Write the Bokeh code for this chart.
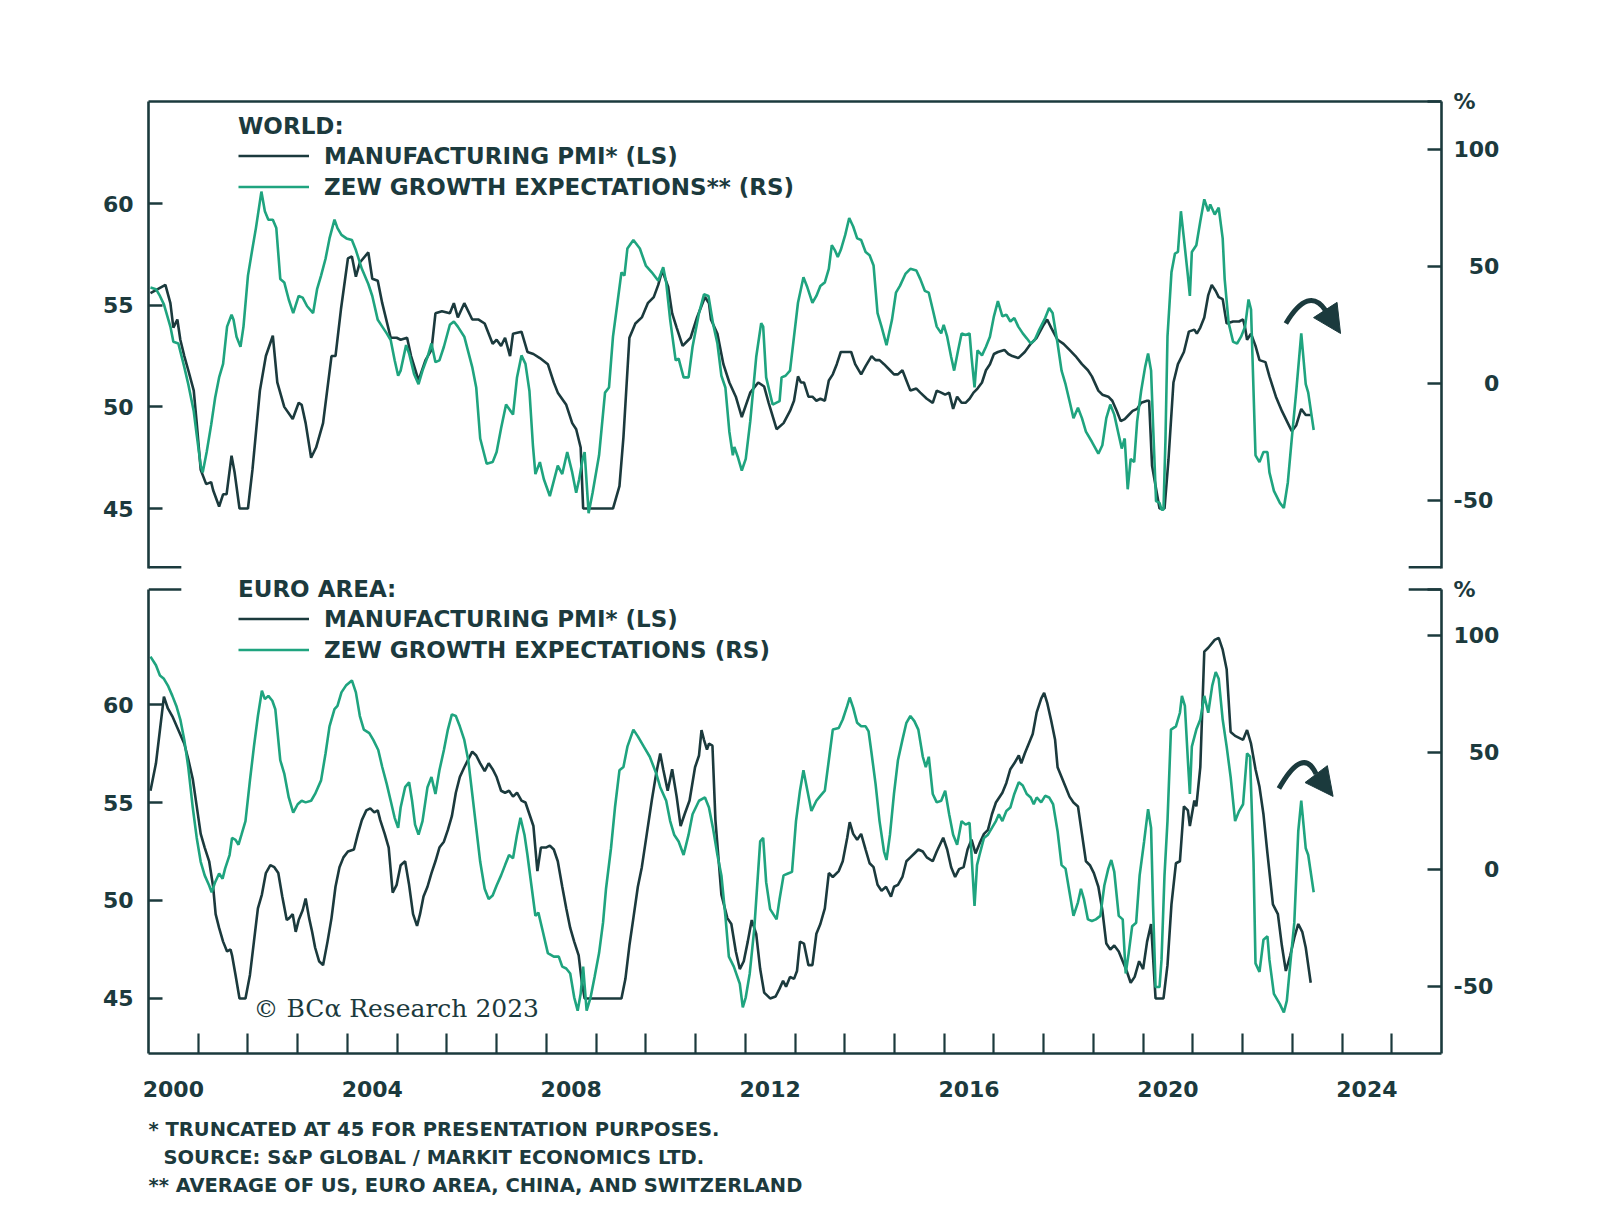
from bokeh.plotting import figure
from bokeh.models import (Range1d, LinearAxis, FixedTicker, Legend, LegendItem, Label, Title,
                          Arrow, NormalHead, CustomJSTickFormatter)
from bokeh.layouts import column
from bokeh.embed import file_html
from bokeh.resources import INLINE

DARK = "#1b3a3d"
GREEN = "#1fa47f"
TEXT = "#1c3a3d"
TICK_FONT = "DejaVu Sans"
LEG_FONT = "DejaVu Sans"

# ---------------- data (decimal year, value) ----------------
world_pmi = [
    (2000.04, 55.6), (2000.34, 56.0), (2000.44, 55.1), (2000.50, 53.9), (2000.58, 54.3), (2000.64, 53.3),
    (2000.72, 52.5), (2000.80, 51.8), (2000.91, 50.8), (2000.97, 49.2), (2001.05, 46.9), (2001.16, 46.2),
    (2001.26, 46.3), (2001.30, 45.9), (2001.42, 45.1), (2001.50, 45.7), (2001.57, 45.7), (2001.67, 47.6),
    (2001.73, 46.8), (2001.83, 45.0), (2002.00, 45.0), (2002.09, 46.9), (2002.24, 50.8), (2002.36, 52.5),
    (2002.50, 53.5), (2002.59, 51.2), (2002.73, 50.0), (2002.90, 49.4), (2003.02, 50.2), (2003.08, 50.1),
    (2003.16, 49.2), (2003.27, 47.5), (2003.37, 48.0), (2003.51, 49.2), (2003.68, 52.5), (2003.76, 52.5),
    (2003.87, 54.8), (2004.01, 57.3), (2004.09, 57.4), (2004.17, 56.4), (2004.25, 57.1), (2004.42, 57.6),
    (2004.50, 56.3), (2004.61, 56.2), (2004.70, 55.1), (2004.87, 53.4), (2004.99, 53.4), (2005.07, 53.3),
    (2005.20, 53.4), (2005.28, 52.5), (2005.43, 51.3), (2005.57, 52.3), (2005.69, 52.8), (2005.77, 54.6),
    (2005.90, 54.7), (2006.06, 54.6), (2006.14, 55.1), (2006.22, 54.4), (2006.35, 55.1), (2006.51, 54.3),
    (2006.63, 54.3), (2006.76, 54.1), (2006.92, 53.1), (2007.00, 53.3), (2007.09, 53.0), (2007.17, 53.4),
    (2007.27, 52.5), (2007.33, 53.6), (2007.50, 53.7), (2007.62, 52.7), (2007.74, 52.6), (2007.87, 52.4),
    (2008.03, 52.1), (2008.15, 51.2), (2008.23, 50.7), (2008.40, 50.1), (2008.52, 49.2), (2008.60, 48.9),
    (2008.69, 48.0), (2008.74, 45.0), (2009.34, 45.0), (2009.47, 46.1), (2009.55, 48.5), (2009.67, 53.4),
    (2009.79, 54.1), (2009.92, 54.4), (2010.04, 55.1), (2010.16, 55.4), (2010.25, 56.0), (2010.33, 56.7),
    (2010.45, 55.9), (2010.53, 54.6), (2010.62, 53.9), (2010.74, 53.0), (2010.90, 53.4), (2011.03, 54.4),
    (2011.19, 55.4), (2011.27, 55.1), (2011.31, 54.3), (2011.44, 53.6), (2011.56, 52.1), (2011.68, 51.2),
    (2011.81, 50.5), (2011.93, 49.5), (2012.10, 50.7), (2012.26, 51.2), (2012.38, 51.0), (2012.47, 50.2),
    (2012.63, 48.9), (2012.77, 49.2), (2012.90, 49.8), (2012.98, 50.3), (2013.06, 51.5), (2013.12, 51.2),
    (2013.18, 51.2), (2013.27, 50.5), (2013.35, 50.5), (2013.43, 50.3), (2013.51, 50.4), (2013.60, 50.3),
    (2013.68, 51.3), (2013.76, 51.6), (2013.84, 52.1), (2013.92, 52.7), (2014.05, 52.7), (2014.13, 52.7),
    (2014.21, 52.1), (2014.33, 51.6), (2014.42, 52.0), (2014.54, 52.5), (2014.62, 52.3), (2014.70, 52.3),
    (2014.79, 52.1), (2014.91, 51.8), (2014.99, 51.6), (2015.07, 51.6), (2015.16, 51.8), (2015.24, 51.3),
    (2015.32, 50.8), (2015.44, 50.9), (2015.52, 50.7), (2015.65, 50.4), (2015.77, 50.2), (2015.85, 50.8),
    (2015.94, 50.7), (2016.02, 50.6), (2016.10, 50.7), (2016.18, 49.9), (2016.26, 50.5), (2016.35, 50.2),
    (2016.43, 50.2), (2016.51, 50.4), (2016.59, 50.7), (2016.67, 50.9), (2016.76, 51.2), (2016.84, 51.8),
    (2016.92, 52.1), (2017.00, 52.6), (2017.08, 52.7), (2017.21, 52.8), (2017.29, 52.6), (2017.37, 52.5),
    (2017.49, 52.4), (2017.62, 52.7), (2017.74, 53.1), (2017.86, 53.4), (2017.99, 54.0), (2018.07, 54.3),
    (2018.15, 53.9), (2018.28, 53.3), (2018.40, 53.1), (2018.52, 52.8), (2018.64, 52.5), (2018.77, 52.1),
    (2018.89, 51.8), (2018.97, 51.5), (2019.10, 50.8), (2019.18, 50.6), (2019.30, 50.5), (2019.38, 50.3),
    (2019.47, 49.8), (2019.55, 49.3), (2019.63, 49.4), (2019.71, 49.6), (2019.79, 49.8), (2019.88, 49.9),
    (2019.96, 50.2), (2020.08, 50.3), (2020.12, 50.3), (2020.18, 47.1), (2020.33, 45.0), (2020.43, 45.0),
    (2020.51, 47.4), (2020.61, 51.2), (2020.70, 52.1), (2020.82, 52.7), (2020.92, 53.7), (2021.03, 53.8),
    (2021.08, 53.6), (2021.15, 53.9), (2021.23, 54.4), (2021.31, 55.5), (2021.38, 56.0), (2021.46, 55.7),
    (2021.52, 55.4), (2021.60, 55.3), (2021.68, 54.1), (2021.81, 54.2), (2021.93, 54.2), (2022.01, 54.3),
    (2022.05, 53.9), (2022.09, 53.3), (2022.17, 53.6), (2022.26, 53.0), (2022.34, 52.3), (2022.46, 52.2),
    (2022.54, 51.5), (2022.67, 50.5), (2022.79, 49.8), (2022.91, 49.2), (2022.99, 48.8), (2023.08, 49.1),
    (2023.18, 49.9), (2023.27, 49.6), (2023.37, 49.6),
]

world_zew = [
    (2000.04, 41.0), (2000.15, 40.3), (2000.23, 37.4), (2000.31, 33.8), (2000.44, 24.3), (2000.50, 17.8),
    (2000.60, 17.1), (2000.72, 7.0), (2000.80, -0.3), (2000.91, -11.9), (2000.97, -22.0), (2001.05, -35.1),
    (2001.09, -38.0), (2001.17, -29.3), (2001.26, -17.7), (2001.34, -6.1), (2001.42, 2.6), (2001.50, 8.4),
    (2001.58, 24.3), (2001.67, 29.4), (2001.71, 27.2), (2001.77, 20.0), (2001.85, 15.7), (2001.91, 24.3),
    (2002.00, 46.1), (2002.09, 57.7), (2002.16, 66.4), (2002.27, 82.0), (2002.34, 73.6), (2002.41, 70.0),
    (2002.50, 70.0), (2002.57, 66.4), (2002.65, 44.6), (2002.73, 43.2), (2002.82, 35.9), (2002.91, 30.1),
    (2003.02, 37.4), (2003.10, 36.7), (2003.19, 33.0), (2003.31, 30.1), (2003.39, 40.3), (2003.47, 46.1),
    (2003.56, 53.3), (2003.64, 62.0), (2003.74, 70.0), (2003.80, 66.4), (2003.88, 63.5), (2003.98, 62.0),
    (2004.09, 61.3), (2004.17, 57.0), (2004.29, 49.0), (2004.42, 42.5), (2004.50, 37.4), (2004.61, 27.2),
    (2004.70, 24.3), (2004.79, 21.4), (2004.87, 18.6), (2004.95, 9.9), (2005.02, 3.3), (2005.07, 5.5),
    (2005.18, 16.4), (2005.24, 12.8), (2005.34, 4.1), (2005.43, -0.3), (2005.51, 5.5), (2005.61, 11.3),
    (2005.69, 17.1), (2005.77, 9.1), (2005.85, 9.9), (2005.94, 15.7), (2006.06, 25.1), (2006.14, 26.5),
    (2006.22, 24.3), (2006.35, 20.0), (2006.51, 7.0), (2006.59, -1.7), (2006.67, -23.5), (2006.80, -34.3),
    (2006.92, -33.6), (2007.00, -29.3), (2007.09, -19.1), (2007.19, -9.0), (2007.33, -13.3), (2007.41, 2.6),
    (2007.50, 12.0), (2007.58, 8.4), (2007.66, -3.2), (2007.73, -26.4), (2007.78, -38.7), (2007.87, -33.6),
    (2007.95, -40.9), (2008.07, -48.1), (2008.23, -35.1), (2008.32, -38.7), (2008.42, -29.3), (2008.52, -38.0),
    (2008.60, -46.7), (2008.66, -40.9), (2008.73, -32.2), (2008.77, -29.3), (2008.85, -55.4), (2008.93, -46.7),
    (2009.06, -30.7), (2009.18, -3.9), (2009.26, -1.7), (2009.34, 20.0), (2009.43, 34.5), (2009.51, 47.5),
    (2009.57, 46.1), (2009.63, 57.7), (2009.75, 61.3), (2009.88, 57.7), (2010.00, 50.4), (2010.12, 47.5),
    (2010.25, 43.9), (2010.35, 49.7), (2010.41, 43.2), (2010.49, 27.2), (2010.60, 9.9), (2010.66, 10.6),
    (2010.76, 2.6), (2010.86, 2.6), (2010.94, 15.7), (2011.07, 30.1), (2011.17, 38.1), (2011.26, 37.4),
    (2011.35, 25.8), (2011.44, 17.1), (2011.52, 3.3), (2011.60, -1.7), (2011.68, -20.6), (2011.75, -30.7),
    (2011.78, -27.1), (2011.85, -31.4), (2011.93, -37.2), (2012.01, -32.2), (2012.10, -16.2), (2012.22, 11.3),
    (2012.32, 25.8), (2012.36, 24.3), (2012.42, 2.6), (2012.55, -9.0), (2012.69, -7.5), (2012.73, 2.6),
    (2012.81, 3.3), (2012.90, 5.5), (2012.98, 20.0), (2013.06, 34.5), (2013.17, 45.4), (2013.25, 41.0),
    (2013.35, 34.5), (2013.43, 37.4), (2013.51, 41.7), (2013.60, 43.2), (2013.68, 49.0), (2013.74, 59.1),
    (2013.80, 57.0), (2013.86, 54.1), (2013.92, 57.0), (2014.01, 63.5), (2014.09, 70.7), (2014.17, 67.1),
    (2014.25, 62.0), (2014.33, 61.3), (2014.42, 56.2), (2014.50, 54.8), (2014.58, 50.4), (2014.66, 30.1),
    (2014.74, 24.3), (2014.84, 16.4), (2014.95, 27.2), (2015.03, 38.8), (2015.11, 41.7), (2015.22, 46.8),
    (2015.32, 49.0), (2015.44, 48.3), (2015.52, 44.6), (2015.61, 39.6), (2015.69, 38.8), (2015.77, 31.6),
    (2015.85, 24.3), (2015.94, 21.4), (2015.99, 25.1), (2016.06, 20.0), (2016.14, 11.3), (2016.20, 5.5),
    (2016.28, 14.2), (2016.35, 21.4), (2016.43, 20.7), (2016.51, 21.4), (2016.55, 11.3), (2016.61, -1.7),
    (2016.67, 14.2), (2016.76, 12.0), (2016.84, 15.7), (2016.92, 20.0), (2017.00, 28.7), (2017.08, 35.2),
    (2017.17, 28.7), (2017.25, 29.4), (2017.33, 26.5), (2017.41, 28.0), (2017.49, 24.3), (2017.58, 21.4),
    (2017.66, 19.3), (2017.74, 17.1), (2017.82, 18.6), (2017.91, 22.9), (2018.03, 28.0), (2018.11, 32.3),
    (2018.18, 30.1), (2018.28, 17.1), (2018.36, 5.5), (2018.44, -0.3), (2018.52, -7.5), (2018.60, -14.8),
    (2018.69, -10.4), (2018.77, -14.8), (2018.85, -20.6), (2018.97, -24.9), (2019.10, -30.0), (2019.18, -26.4),
    (2019.26, -14.8), (2019.34, -9.0), (2019.42, -13.3), (2019.51, -22.0), (2019.57, -27.8), (2019.63, -23.5),
    (2019.69, -45.2), (2019.75, -32.2), (2019.82, -33.6), (2019.88, -16.2), (2019.96, -3.2), (2020.04, 7.0),
    (2020.10, 12.8), (2020.16, 5.5), (2020.20, -17.7), (2020.26, -50.3), (2020.33, -51.0), (2020.37, -53.9),
    (2020.41, -53.9), (2020.45, -23.5), (2020.49, 20.0), (2020.57, 47.5), (2020.64, 55.5), (2020.70, 56.2),
    (2020.76, 73.6), (2020.82, 62.0), (2020.90, 46.1), (2020.94, 37.4), (2020.98, 56.2), (2021.07, 59.1),
    (2021.15, 69.3), (2021.23, 78.7), (2021.31, 73.6), (2021.35, 76.5), (2021.44, 72.2), (2021.52, 75.1),
    (2021.60, 62.0), (2021.64, 44.6), (2021.72, 25.8), (2021.81, 17.8), (2021.89, 17.1), (2021.97, 20.0),
    (2022.05, 24.3), (2022.12, 35.9), (2022.17, 31.6), (2022.26, -30.7), (2022.34, -33.6), (2022.42, -29.3),
    (2022.50, -29.3), (2022.54, -38.0), (2022.63, -45.9), (2022.75, -51.0), (2022.83, -53.2), (2022.91, -42.3),
    (2022.99, -23.5), (2023.08, -3.2), (2023.18, 21.4), (2023.27, -0.3), (2023.32, -3.9), (2023.43, -19.9),
]

euro_pmi = [
    (2000.04, 55.6), (2000.15, 57.0), (2000.23, 58.7), (2000.31, 60.4), (2000.39, 59.8), (2000.48, 59.4),
    (2000.60, 58.7), (2000.72, 58.0), (2000.80, 57.2), (2000.89, 56.2), (2000.97, 54.8), (2001.05, 53.4),
    (2001.13, 52.7), (2001.22, 52.0), (2001.30, 50.7), (2001.35, 49.3), (2001.42, 48.6), (2001.50, 47.9),
    (2001.58, 47.4), (2001.65, 47.5), (2001.68, 47.2), (2001.75, 46.2), (2001.83, 45.0), (2001.95, 45.0),
    (2002.04, 46.2), (2002.12, 47.9), (2002.20, 49.6), (2002.28, 50.3), (2002.36, 51.4), (2002.45, 51.8),
    (2002.53, 51.7), (2002.61, 51.4), (2002.69, 50.2), (2002.78, 49.0), (2002.83, 49.1), (2002.90, 49.3),
    (2002.96, 48.4), (2003.02, 49.0), (2003.10, 49.5), (2003.16, 50.1), (2003.23, 49.1), (2003.29, 48.4),
    (2003.35, 47.6), (2003.43, 46.9), (2003.51, 46.7), (2003.60, 47.9), (2003.68, 49.1), (2003.76, 50.7),
    (2003.84, 51.7), (2003.92, 52.2), (2004.01, 52.5), (2004.13, 52.6), (2004.21, 53.4), (2004.29, 54.1),
    (2004.38, 54.6), (2004.46, 54.7), (2004.54, 54.5), (2004.61, 54.6), (2004.66, 54.1), (2004.75, 53.4),
    (2004.83, 52.7), (2004.91, 50.4), (2004.99, 50.8), (2005.07, 51.8), (2005.16, 52.0), (2005.24, 50.8),
    (2005.32, 49.3), (2005.40, 48.7), (2005.46, 49.3), (2005.53, 50.2), (2005.61, 50.7), (2005.69, 51.4),
    (2005.77, 52.0), (2005.85, 52.7), (2005.94, 53.0), (2006.02, 53.6), (2006.10, 54.3), (2006.18, 55.5),
    (2006.26, 56.3), (2006.35, 56.8), (2006.43, 57.2), (2006.51, 57.6), (2006.59, 57.4), (2006.67, 57.0),
    (2006.76, 56.6), (2006.84, 57.0), (2006.92, 56.7), (2007.00, 56.3), (2007.09, 55.6), (2007.17, 55.5),
    (2007.25, 55.6), (2007.33, 55.3), (2007.41, 55.5), (2007.50, 55.1), (2007.58, 55.0), (2007.66, 54.4),
    (2007.74, 53.8), (2007.82, 51.5), (2007.89, 52.7), (2007.99, 52.7), (2008.07, 52.8), (2008.15, 52.6),
    (2008.23, 52.0), (2008.32, 50.7), (2008.40, 49.6), (2008.48, 48.6), (2008.56, 47.9), (2008.65, 47.2),
    (2008.71, 45.9), (2008.77, 45.0), (2009.51, 45.0), (2009.59, 46.0), (2009.67, 47.7), (2009.75, 49.1),
    (2009.84, 50.7), (2009.92, 51.7), (2010.02, 53.4), (2010.12, 55.1), (2010.21, 56.5), (2010.29, 57.5),
    (2010.35, 56.7), (2010.44, 55.6), (2010.53, 56.7), (2010.62, 55.3), (2010.70, 53.8), (2010.78, 54.4),
    (2010.88, 55.1), (2010.99, 56.8), (2011.07, 57.4), (2011.12, 58.7), (2011.17, 58.2), (2011.23, 57.7),
    (2011.27, 58.0), (2011.34, 57.9), (2011.40, 54.1), (2011.52, 50.3), (2011.64, 49.1), (2011.72, 48.8),
    (2011.81, 47.4), (2011.89, 46.5), (2011.97, 46.9), (2012.05, 47.9), (2012.13, 49.0), (2012.22, 48.3),
    (2012.30, 46.5), (2012.38, 45.3), (2012.50, 45.0), (2012.61, 45.1), (2012.69, 45.5), (2012.76, 45.9),
    (2012.82, 45.6), (2012.90, 46.1), (2012.98, 46.0), (2013.04, 46.4), (2013.10, 47.9), (2013.18, 47.8),
    (2013.27, 46.7), (2013.35, 46.7), (2013.43, 48.3), (2013.51, 48.8), (2013.60, 49.6), (2013.68, 51.4),
    (2013.76, 51.2), (2013.88, 51.5), (2013.96, 52.0), (2014.05, 53.2), (2014.10, 54.0), (2014.17, 53.4),
    (2014.25, 53.1), (2014.33, 53.4), (2014.42, 52.6), (2014.50, 51.9), (2014.58, 51.7), (2014.66, 50.8),
    (2014.74, 50.5), (2014.83, 50.7), (2014.93, 50.2), (2014.99, 50.7), (2015.07, 50.8), (2015.16, 51.2),
    (2015.24, 52.0), (2015.32, 52.2), (2015.40, 52.4), (2015.48, 52.6), (2015.57, 52.5), (2015.65, 52.2),
    (2015.77, 52.0), (2015.85, 52.5), (2015.98, 53.2), (2016.06, 52.6), (2016.14, 51.7), (2016.22, 51.2),
    (2016.30, 51.6), (2016.39, 51.7), (2016.47, 52.6), (2016.55, 53.1), (2016.63, 52.4), (2016.71, 52.9),
    (2016.80, 53.4), (2016.88, 53.6), (2016.96, 54.4), (2017.04, 55.0), (2017.17, 55.5), (2017.25, 56.0),
    (2017.33, 56.7), (2017.41, 57.0), (2017.50, 57.4), (2017.55, 57.0), (2017.62, 57.5), (2017.70, 58.0),
    (2017.78, 58.5), (2017.86, 59.6), (2017.95, 60.3), (2018.01, 60.6), (2018.07, 60.1), (2018.15, 59.2),
    (2018.23, 58.2), (2018.28, 56.8), (2018.36, 56.3), (2018.44, 55.8), (2018.52, 55.3), (2018.60, 55.0),
    (2018.69, 54.8), (2018.77, 53.4), (2018.85, 52.0), (2018.93, 51.8), (2019.01, 51.4), (2019.10, 50.7),
    (2019.18, 49.5), (2019.26, 47.8), (2019.34, 47.5), (2019.42, 47.7), (2019.51, 47.4), (2019.59, 46.9),
    (2019.67, 46.4), (2019.75, 45.8), (2019.83, 46.1), (2019.92, 46.9), (2020.00, 46.5), (2020.08, 47.9),
    (2020.16, 48.8), (2020.25, 45.0), (2020.41, 45.0), (2020.49, 46.7), (2020.57, 49.8), (2020.66, 51.9),
    (2020.74, 52.0), (2020.82, 54.8), (2020.90, 54.6), (2020.94, 53.8), (2021.03, 55.1), (2021.07, 54.8),
    (2021.15, 56.8), (2021.23, 62.7), (2021.31, 62.9), (2021.44, 63.3), (2021.52, 63.4), (2021.60, 62.8),
    (2021.68, 61.8), (2021.76, 58.6), (2021.85, 58.4), (2021.93, 58.3), (2022.01, 58.2), (2022.09, 58.7),
    (2022.17, 58.0), (2022.26, 56.7), (2022.34, 55.8), (2022.42, 54.4), (2022.50, 52.4), (2022.61, 49.8),
    (2022.71, 49.3), (2022.79, 47.7), (2022.87, 46.4), (2022.96, 47.2), (2023.04, 48.1), (2023.12, 48.8),
    (2023.20, 48.4), (2023.27, 47.6), (2023.32, 46.7), (2023.37, 45.8),
]

euro_zew = [
    (2000.04, 91.0), (2000.15, 87.3), (2000.23, 82.9), (2000.31, 81.5), (2000.39, 78.6), (2000.48, 74.2),
    (2000.56, 69.9), (2000.64, 64.1), (2000.72, 55.4), (2000.80, 43.7), (2000.89, 26.5), (2000.97, 13.5),
    (2001.05, 3.3), (2001.13, -2.5), (2001.22, -6.8), (2001.27, -9.7), (2001.34, -5.4), (2001.42, -1.7),
    (2001.49, -3.9), (2001.54, 0.4), (2001.63, 6.2), (2001.68, 13.5), (2001.75, 12.7), (2001.81, 10.6),
    (2001.87, 14.9), (2001.95, 20.7), (2002.04, 38.1), (2002.12, 52.5), (2002.20, 65.6), (2002.28, 76.4),
    (2002.34, 72.8), (2002.41, 74.2), (2002.49, 72.1), (2002.55, 68.5), (2002.65, 46.7), (2002.73, 41.0),
    (2002.82, 30.8), (2002.91, 24.3), (2003.00, 27.9), (2003.08, 29.4), (2003.16, 28.7), (2003.27, 29.4),
    (2003.35, 32.3), (2003.47, 38.1), (2003.56, 49.6), (2003.64, 61.2), (2003.74, 68.5), (2003.80, 69.9),
    (2003.88, 75.7), (2003.97, 78.6), (2004.09, 80.8), (2004.17, 75.7), (2004.25, 65.6), (2004.33, 59.8),
    (2004.44, 58.3), (2004.52, 55.4), (2004.62, 51.1), (2004.70, 43.8), (2004.79, 36.6), (2004.87, 29.4),
    (2004.95, 22.1), (2005.02, 17.8), (2005.07, 26.5), (2005.16, 35.2), (2005.24, 37.3), (2005.30, 29.4),
    (2005.36, 19.2), (2005.43, 14.9), (2005.51, 20.7), (2005.61, 35.2), (2005.69, 39.5), (2005.77, 32.3),
    (2005.85, 42.4), (2005.94, 51.1), (2006.02, 59.8), (2006.10, 66.3), (2006.18, 65.6), (2006.26, 61.2),
    (2006.35, 55.4), (2006.43, 46.7), (2006.51, 32.3), (2006.59, 17.8), (2006.67, 3.3), (2006.76, -8.2),
    (2006.84, -12.6), (2006.92, -11.1), (2007.00, -6.8), (2007.09, -2.5), (2007.17, 1.9), (2007.25, 6.2),
    (2007.33, 4.8), (2007.41, 14.9), (2007.48, 22.1), (2007.56, 14.9), (2007.62, 6.2), (2007.70, -6.8),
    (2007.78, -19.8), (2007.84, -18.4), (2007.92, -25.6), (2008.03, -35.7), (2008.15, -37.2), (2008.25, -37.2),
    (2008.32, -41.5), (2008.40, -42.3), (2008.48, -44.4), (2008.56, -54.6), (2008.63, -60.3), (2008.69, -53.1),
    (2008.74, -41.5), (2008.81, -60.3), (2008.89, -54.6), (2008.97, -45.9), (2009.06, -35.7), (2009.14, -22.7),
    (2009.20, -8.2), (2009.30, 9.1), (2009.38, 26.5), (2009.47, 42.4), (2009.55, 43.8), (2009.63, 52.5),
    (2009.75, 59.8), (2009.84, 56.9), (2009.96, 52.5), (2010.08, 48.2), (2010.21, 41.0), (2010.29, 35.2),
    (2010.41, 29.4), (2010.49, 20.7), (2010.57, 14.9), (2010.66, 12.0), (2010.76, 6.2), (2010.86, 14.9),
    (2010.94, 23.6), (2011.07, 29.4), (2011.19, 30.8), (2011.27, 26.5), (2011.35, 17.8), (2011.44, 6.2),
    (2011.52, -2.5), (2011.60, -19.8), (2011.67, -37.2), (2011.77, -41.5), (2011.89, -48.8), (2011.95, -58.9),
    (2012.01, -54.6), (2012.09, -44.4), (2012.18, -25.6), (2012.24, -6.8), (2012.30, 12.0), (2012.36, 13.5),
    (2012.42, -5.4), (2012.50, -16.9), (2012.63, -21.3), (2012.69, -12.6), (2012.77, -2.5), (2012.86, -1.7),
    (2012.94, -1.0), (2013.02, 20.7), (2013.10, 33.7), (2013.17, 42.4), (2013.25, 33.7), (2013.33, 25.0),
    (2013.43, 29.4), (2013.51, 31.5), (2013.60, 33.7), (2013.68, 46.7), (2013.76, 59.8), (2013.88, 60.5),
    (2013.96, 64.1), (2014.05, 69.9), (2014.10, 73.5), (2014.17, 69.2), (2014.25, 62.7), (2014.33, 61.2),
    (2014.42, 61.2), (2014.48, 59.0), (2014.54, 49.6), (2014.62, 36.6), (2014.70, 20.7), (2014.79, 7.7),
    (2014.84, 4.1), (2014.91, 14.9), (2014.99, 32.3), (2015.07, 46.7), (2015.16, 55.4), (2015.24, 62.7),
    (2015.32, 65.6), (2015.40, 63.4), (2015.48, 59.8), (2015.57, 48.2), (2015.63, 43.8), (2015.69, 48.2),
    (2015.77, 32.3), (2015.85, 28.7), (2015.94, 29.4), (2016.02, 33.7), (2016.10, 23.6), (2016.18, 14.9),
    (2016.26, 10.6), (2016.35, 20.7), (2016.43, 19.2), (2016.51, 20.0), (2016.55, 6.2), (2016.61, -15.5),
    (2016.66, 1.9), (2016.71, 6.2), (2016.80, 13.5), (2016.88, 14.9), (2016.96, 17.8), (2017.04, 20.7),
    (2017.10, 23.6), (2017.17, 20.7), (2017.25, 25.0), (2017.33, 26.5), (2017.41, 32.3), (2017.50, 37.3),
    (2017.58, 35.9), (2017.66, 32.3), (2017.74, 30.8), (2017.80, 27.9), (2017.86, 30.8), (2017.95, 28.7),
    (2018.03, 31.5), (2018.11, 30.8), (2018.19, 27.9), (2018.28, 16.4), (2018.36, 1.9), (2018.44, 0.4),
    (2018.52, -9.7), (2018.60, -19.8), (2018.69, -14.0), (2018.75, -8.2), (2018.81, -12.6), (2018.89, -21.3),
    (2018.97, -22.0), (2019.05, -21.3), (2019.14, -19.8), (2019.22, -6.8), (2019.30, 0.4), (2019.36, 4.1),
    (2019.42, -1.0), (2019.51, -19.8), (2019.59, -21.3), (2019.65, -44.4), (2019.71, -35.7), (2019.78, -24.2),
    (2019.86, -22.7), (2019.93, -2.5), (2020.02, 12.0), (2020.10, 25.8), (2020.16, 17.8), (2020.20, -15.5),
    (2020.25, -50.2), (2020.33, -50.2), (2020.37, -38.6), (2020.43, -2.5), (2020.49, 20.7), (2020.56, 59.8),
    (2020.66, 61.2), (2020.74, 67.0), (2020.78, 74.2), (2020.84, 69.9), (2020.90, 46.7), (2020.94, 32.3),
    (2020.98, 52.5), (2021.07, 59.8), (2021.15, 64.1), (2021.23, 74.2), (2021.31, 67.0), (2021.39, 78.6),
    (2021.46, 84.4), (2021.52, 81.5), (2021.60, 64.1), (2021.68, 52.5), (2021.76, 39.5), (2021.85, 20.7),
    (2021.93, 25.0), (2022.01, 27.9), (2022.09, 49.6), (2022.15, 48.2), (2022.22, 3.3), (2022.26, -40.1),
    (2022.34, -43.7), (2022.42, -30.0), (2022.50, -28.5), (2022.54, -38.6), (2022.63, -53.1), (2022.75, -57.5),
    (2022.83, -61.1), (2022.89, -56.0), (2022.96, -40.1), (2023.04, -22.7), (2023.12, 16.4), (2023.18, 29.4),
    (2023.27, 9.1), (2023.32, 6.2), (2023.43, -9.7),
]

left_ticks = [45, 50, 55, 60]
right_ticks = [-50, 0, 50, 100]
FIG_SP = "\u2007"   # figure space, to right-align the right-hand labels
right_tick_labels = ["-50", FIG_SP * 2 + "0", FIG_SP + "50", "100"]
year_label_pos = [2000.5, 2004.5, 2008.5, 2012.5, 2016.5, 2020.5, 2024.5]
year_ticks = list(range(2001, 2026))

footnotes = [
    (0, "* TRUNCATED AT 45 FOR PRESENTATION PURPOSES."),
    (15, "SOURCE: S&P GLOBAL / MARKIT ECONOMICS LTD."),
    (0, "** AVERAGE OF US, EURO AREA, CHINA, AND SWITZERLAND"),
]

# arrows: (tail x, tail y, ctrl x, ctrl y, end x, end y, tip x, tip y) in left-axis data units
world_arrow = (2022.87, 54.10, 2023.33, 55.98, 2023.67, 54.74, 2023.97, 53.61)
euro_arrow = (2022.73, 55.71, 2023.22, 57.92, 2023.48, 56.45, 2023.82, 55.31)


def style_axis(ax, tick_in):
    ax.axis_line_color = DARK
    ax.axis_line_width = 2.6
    ax.major_tick_line_color = DARK
    ax.major_tick_line_width = 2.6
    ax.major_tick_in = tick_in
    ax.major_tick_out = 0
    ax.minor_tick_line_color = None
    ax.major_label_text_font = TICK_FONT
    ax.major_label_text_font_style = "bold"
    ax.major_label_text_font_size = "22px"
    ax.major_label_text_color = TEXT


def panel(frame_h, b_top, b_bottom, y_rng, left_bounds, zew_rng, zew_bounds, pmi, zew,
          title, zew_label, legend_y, arrow, top_full):
    p = figure(frame_width=1293, frame_height=frame_h, x_range=Range1d(2000, 2026),
               y_range=Range1d(*y_rng), output_backend="svg", toolbar_location=None,
               x_axis_location=None, y_axis_location=None,
               min_border_left=148, min_border_right=143, min_border_top=b_top, min_border_bottom=b_bottom,
               outline_line_color=None, background_fill_color="white", border_fill_color="white")
    p.xgrid.visible = False
    p.ygrid.visible = False
    p.extra_y_ranges = {"zew": Range1d(*zew_rng)}

    left = LinearAxis(ticker=FixedTicker(ticks=left_ticks), major_label_standoff=15, bounds=left_bounds)
    style_axis(left, 14)
    p.add_layout(left, "left")

    pct_pos = zew_bounds[1]
    r_ticks = right_ticks + [pct_pos]
    r_labels = right_tick_labels + ["%"]
    fmt = CustomJSTickFormatter(args=dict(tvals=r_ticks, tlabels=r_labels), code="""
        for (let i = 0; i < tvals.length; i++) {
            if (Math.abs(tvals[i] - tick) < 1e-6) { return tlabels[i]; }
        }
        return '';
    """)
    right = LinearAxis(y_range_name="zew", ticker=FixedTicker(ticks=r_ticks), formatter=fmt,
                       major_label_standoff=12, bounds=zew_bounds)
    style_axis(right, 14)
    p.add_layout(right, "right")

    px, py = zip(*pmi)
    zx, zy = zip(*zew)
    r_pmi = p.line(list(px), list(py), line_color=DARK, line_width=2.6)
    r_zew = p.line(list(zx), list(zy), line_color=GREEN, line_width=2.6, y_range_name="zew")

    # short stubs of the frame edge between the two panels
    if top_full:
        edge_y, lw = left_bounds[0], 5.2
    else:
        edge_y, lw = left_bounds[1], 2.6
    p.segment(x0=[2000, 2025.34], y0=[edge_y] * 2, x1=[2000.66, 2026], y1=[edge_y] * 2,
              line_color=DARK, line_width=lw)

    legend = Legend(items=[LegendItem(label="MANUFACTURING PMI* (LS)", renderers=[r_pmi]),
                           LegendItem(label=zew_label, renderers=[r_zew])],
                    title=title, location=(90, legend_y), padding=0, margin=0, spacing=2,
                    glyph_width=71, glyph_height=29, label_height=29, label_standoff=15,
                    label_text_font=LEG_FONT, label_text_font_size="23px", label_text_font_style="bold",
                    label_text_color=TEXT,
                    title_text_font=LEG_FONT, title_text_font_size="23px", title_text_font_style="bold",
                    title_text_color=TEXT, title_standoff=2,
                    background_fill_alpha=0, border_line_color=None)
    p.add_layout(legend)

    tx, ty, cx, cy, ex, ey, hx, hy = arrow
    p.quadratic(x0=[tx], y0=[ty], x1=[ex], y1=[ey], cx=[cx], cy=[cy], line_color=DARK, line_width=5)
    p.add_layout(Arrow(x_start=ex, y_start=ey, x_end=hx, y_end=hy, line_alpha=0,
                       end=NormalHead(size=28, fill_color=DARK, line_color=DARK, line_width=1)))
    return p


p1 = panel(467, 101, 3, (42.05, 65.02), (42.05, 65.02), (-79.06, 120.5), (-79.06, 120.5),
           world_pmi, world_zew, "WORLD:", "ZEW GROWTH EXPECTATIONS** (RS)", 367, world_arrow, True)
top_axis = LinearAxis(ticker=FixedTicker(ticks=[]), major_label_text_font_size="0px",
                      major_tick_in=0, major_tick_out=0, axis_line_color=DARK, axis_line_width=2.6)
p1.add_layout(top_axis, "above")

p2 = panel(482, 0, 150, (42.19, 66.79), (42.19, 65.87), (-78.6, 127.35), (-78.6, 119.7),
           euro_pmi, euro_zew, "EURO AREA:", "ZEW GROWTH EXPECTATIONS (RS)", 389, euro_arrow, False)
xaxis = LinearAxis(ticker=FixedTicker(ticks=year_label_pos, minor_ticks=year_ticks),
                   formatter=CustomJSTickFormatter(code="return Math.floor(tick).toString()"),
                   major_label_standoff=27)
style_axis(xaxis, 0)
xaxis.minor_tick_line_color = DARK
xaxis.minor_tick_line_width = 2.2
xaxis.minor_tick_in = 20
xaxis.minor_tick_out = 0
xaxis.major_tick_line_color = None
p2.add_layout(xaxis, "below")

p2.add_layout(Label(x=105, y=45, x_units="screen", y_units="screen", text="\u00a9 BC\u03b1 Research 2023",
                    text_font="DejaVu Serif", text_font_size="25px", text_color=TEXT,
                    text_baseline="middle", text_align="left"))

# a thin blank row between the year labels and the footnotes
p2.add_layout(Title(text=" ", text_font_size="1px", standoff=12), "below")
for off, txt in footnotes:
    p2.add_layout(Title(text=txt, align="left", offset=off, standoff=3, text_font=LEG_FONT,
                        text_font_size="19.5px", text_font_style="bold", text_color=TEXT), "below")

layout = column(p1, p2, spacing=0)
open("out.html", "w").write(file_html(layout, INLINE))
